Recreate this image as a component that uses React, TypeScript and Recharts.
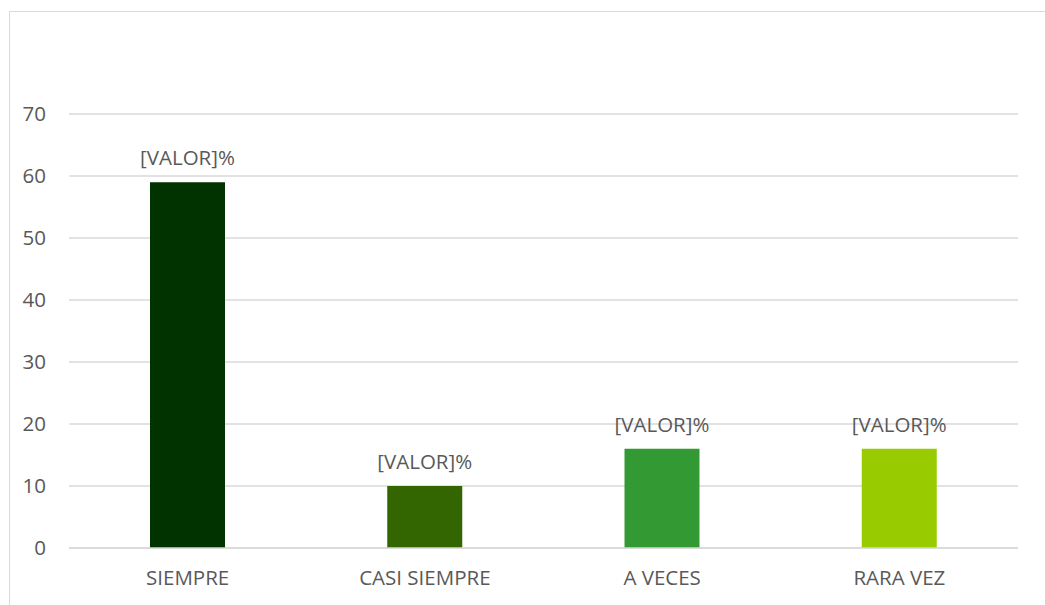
import { Bar, BarChart, CartesianGrid, Cell, LabelList, XAxis, YAxis } from "recharts";

const categorias = ["SIEMPRE", "CASI SIEMPRE", "A VECES", "RARA VEZ"];
const valores = [59, 10, 16, 16];
const colores = ["#003300", "#336600", "#339933", "#99CC00"];
const ticksY = [0, 10, 20, 30, 40, 50, 60, 70];
const etiqueta = "[VALOR]%";

const data = categorias.map((c, i) => ({ cat: c, valor: valores[i] }));

const font = "'Open Sans', 'Noto Sans', sans-serif";
const gris = "#595959";
const tam = 20.5;

export default function App() {
  return (
    <div style={{ position: "absolute", left: 0, top: 0, width: 1045, height: 605, background: "#fff" }}>
      <div
        style={{
          position: "absolute",
          left: 9,
          top: 11,
          width: 1040,
          height: 600,
          border: "1px solid #d9d9d9",
          boxSizing: "border-box",
        }}
      />
      <div style={{ position: "absolute", left: 0, top: 0 }}>
        <BarChart width={1045} height={605} data={data} margin={{ top: 114, right: 27, left: 1, bottom: 0 }}>
          <CartesianGrid vertical={false} stroke="#d9d9d9" strokeWidth={1.5} />
          <XAxis
            dataKey="cat"
            height={57}
            tickLine={false}
            tickSize={0}
            tickMargin={22}
            axisLine={{ stroke: "#d9d9d9", strokeWidth: 1.5 }}
            tick={{ fontSize: tam, fill: gris, fontFamily: font }}
          />
          <YAxis
            width={68}
            domain={[0, 70]}
            ticks={ticksY}
            tickLine={false}
            tickSize={0}
            tickMargin={23}
            axisLine={false}
            tick={{ fontSize: tam, fill: gris, fontFamily: font }}
          />
          <Bar dataKey="valor" barSize={75} isAnimationActive={false}>
            {data.map((d, i) => (
              <Cell key={d.cat} fill={colores[i]} />
            ))}
            <LabelList
              dataKey="valor"
              position="top"
              offset={17}
              formatter={() => etiqueta}
              style={{ fontSize: tam, fill: gris, fontFamily: font }}
            />
          </Bar>
        </BarChart>
      </div>
    </div>
  );
}
